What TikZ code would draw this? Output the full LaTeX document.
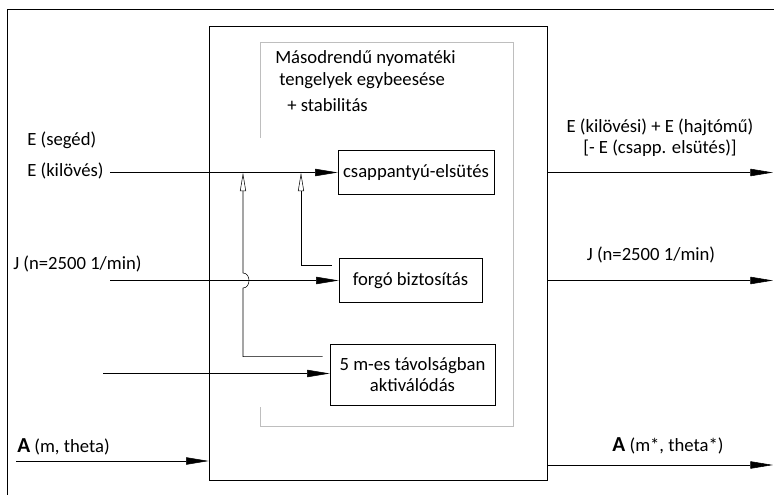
\documentclass[tikz,border=0pt]{standalone}
\usepackage{fontspec}
\setmainfont{Carlito}
\usetikzlibrary{arrows.meta}

\tikzset{
    blk/.style={draw, inner sep=0pt, align=center},
    sig/.style={-{Triangle[length=17pt,width=5.5pt]}},
    ctl/.style={-{Triangle[open,length=14pt,width=4.5pt]}},
    lbl/.style={inner sep=0.75pt},
}

\begin{document}
\begin{tikzpicture}[x=0.75pt,y=0.75pt,yscale=-1,xscale=1,font=\fontsize{14}{15.5}\selectfont]
    \useasboundingbox (0,0) rectangle (775,495);

    %Outer frame
    \draw (7,495) -- (7,9) -- (774,9) ;
    %Main block
    \node [draw, minimum width=253.5pt, minimum height=340.5pt] (sys) at (378,253) {};
    %Gray frame, open on the left
    \draw [color={rgb, 255:red, 190; green, 190; blue, 190 }] (260,138) -- (260,42) -- (513,42) -- (513,426) -- (260,426) -- (260,407) ;

    %Inner blocks
    \node [blk, minimum width=117pt, minimum height=33pt] (firing) at (416,172.5) {csappantyú-elsütés};
    \node [blk, minimum width=107.25pt, minimum height=33pt] (fuse) at (410.5,280.5) {forgó biztosítás};
    \node [blk, minimum width=123.75pt, minimum height=45.75pt] (arm) at (412.5,374.5) {5 m-es távolságban\\aktiválódás};

    % Text Node
    \node [lbl, anchor=west] (title1) at (274,59) {Másodrendű nyomatéki};
    \node [lbl, anchor=west] (title2) at (278,81) {tengelyek egybeesése};
    \node [lbl, anchor=west] (title3) at (286,105) {+ stabilitás};

    %Inputs
    \node [lbl, anchor=west] (eaux) at (26,140) {E (segéd)};
    \node [lbl, anchor=west] (efire) at (26,171) {E (kilövés)};
    \node [lbl, anchor=west] (jlbl) at (12,264) {J (n=2500 1/min)};
    \node [lbl, anchor=west] (albl) at (16,447) {{\fontsize{16}{16}\selectfont\bfseries A} (m, theta)};
    \coordinate (ein) at (110,172.5);
    \coordinate (jin) at (110,280.5);
    \coordinate (din) at (103,373.5);
    \coordinate (ain) at (16,461);
    \draw [sig] (ein) -- (ein -| firing.west) ;
    \draw [sig] (jin) -- (jin -| fuse.west) ;
    \draw [sig] (din) -- (din -| arm.west) ;
    \draw [sig] (ain) -- (ain -| sys.west) ;

    %Control taps
    \coordinate (k1) at (243,172.5);
    \coordinate (k2) at (301,172.5);
    \coordinate (armtap) at ([xshift=-5.25pt,yshift=9.75pt]arm.north west);
    \coordinate (fusetap) at ([xshift=-5.25pt,yshift=5.25pt]fuse.north west);
    \draw [ctl] (fusetap) -| (k2) ;
    \draw [ctl] (armtap) -| (243,288) .. controls (251,288) and (251,273) .. (243,273) -- (k1) ;

    %Outputs
    \coordinate (eout) at (773,172.5);
    \coordinate (jout) at (773,280.5);
    \coordinate (aout) at (773,465);
    \draw [sig] (sys.east |- eout) -- (eout) ;
    \draw [sig] (sys.east |- jout) -- (jout) ;
    \draw [sig] (sys.east |- aout) -- (aout) ;
    \node [lbl, align=center] (elbl2) at (660,138) {E (kilövési) + E (hajtómű)\\{}[- E (csapp. elsütés)]};
    \node [lbl] (jlbl2) at (651,255) {J (n=2500 1/min)};
    \node [lbl] (albl2) at (668,446) {{\fontsize{16}{16}\selectfont\bfseries A} (m*, theta*)};

\end{tikzpicture}
\end{document}
